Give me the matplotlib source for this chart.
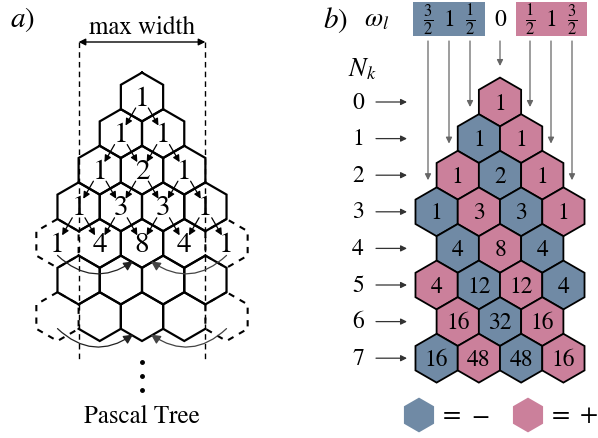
import numpy as np
import matplotlib.pyplot as plt
from matplotlib.patches import Polygon, FancyArrowPatch, Rectangle

plt.rcParams['font.family'] = 'STIXGeneral'
plt.rcParams['mathtext.fontset'] = 'stix'

# panel a: Pascal tree, numbers per row (rows 5-6 are empty cells)
a_values = [[1], [1, 1], [1, 2, 1], [1, 3, 3, 1], [1, 4, 8, 4, 1]]
a_row_sizes = [1, 2, 3, 4, 5, 4, 5]
a_dashed_rows = [4, 6]          # outer cells fall outside "max width"

# panel b: counts and signs per N_k row
b_values = [[1], [1, 1], [1, 2, 1], [1, 3, 3, 1], [4, 8, 4],
            [4, 12, 12, 4], [16, 32, 16], [16, 48, 48, 16]]
b_signs = [["+"], ["-", "+"], ["+", "-", "+"], ["-", "+", "-", "+"],
           ["-", "+", "-"], ["+", "-", "+", "-"], ["+", "-", "+"],
           ["-", "+", "-", "+"]]
row_labels = ["0", "1", "2", "3", "4", "5", "6", "7"]
omega_labels = [r"$\frac{3}{2}$", "1", r"$\frac{1}{2}$", "0",
                r"$\frac{1}{2}$", "1", r"$\frac{3}{2}$"]
omega_target_row = [2, 1, 0, None, 0, 1, 2]

BLUE = "#708aa5"
PINK = "#cb809b"
COLORS = {"-": BLUE, "+": PINK}

R = 24.4
DX = np.sqrt(3) * R / 2
DY = 1.5 * R


def hex_pts(cx, cy, r=R):
    ang = np.radians([90, 150, 210, 270, 330, 30])
    return np.column_stack([cx + r * np.cos(ang), cy - r * np.sin(ang)])


fig = plt.figure(figsize=(5.98, 4.39), dpi=100)
ax = fig.add_axes([0, 0, 1, 1])
ax.set_xlim(0, 598)
ax.set_ylim(439, 0)
ax.axis("off")

# ---------------- panel a ----------------
ax0, ay0 = 142, 98
ax.text(22, 20, "$a)$", fontsize=21, ha="center", va="center")
ax.text(ax0, 28, "max width", fontsize=18, ha="center", va="center")
left_w, right_w = ax0 - 3 * DX, ax0 + 3 * DX
ax.annotate("", xy=(left_w, 43), xytext=(right_w, 43),
            arrowprops=dict(arrowstyle="<|-|>", color="black", lw=1.0,
                            mutation_scale=10, shrinkA=0, shrinkB=0))
for xw in (left_w, right_w):
    ax.plot([xw, xw], [43, 363], color="black", lw=1.0, ls=(0, (4, 3)))

for k, n in enumerate(a_row_sizes):
    y = ay0 + k * DY
    cols = np.arange(-(n - 1), n, 2)
    for c in cols:
        x = ax0 + c * DX
        pts = hex_pts(x, y)
        outer = k in a_dashed_rows and abs(c) == n - 1
        if outer:
            closed = np.vstack([pts, pts[:1]])
            ax.plot(closed[:, 0], closed[:, 1], color="black", lw=1.5,
                    ls=(0, (3, 3)), zorder=2)
for k, n in enumerate(a_row_sizes):
    y = ay0 + k * DY
    cols = np.arange(-(n - 1), n, 2)
    for c in cols:
        x = ax0 + c * DX
        pts = hex_pts(x, y)
        if k in a_dashed_rows and abs(c) == n - 1:
            continue
        if k in a_dashed_rows and c == -(n - 3):
            order = [2, 3, 4, 5, 0, 1]          # skip left vertical edge
        elif k in a_dashed_rows and c == n - 3:
            order = [5, 0, 1, 2, 3, 4]          # skip right vertical edge
        else:
            order = [0, 1, 2, 3, 4, 5, 0]
        p = pts[order]
        ax.plot(p[:, 0], p[:, 1], color="black", lw=1.6, zorder=3,
                solid_joinstyle="miter")

for k, row in enumerate(a_values):
    y = ay0 + k * DY
    n = len(row)
    cols = np.arange(-(n - 1), n, 2)
    for c, v in zip(cols, row):
        x = ax0 + c * DX
        ax.text(x, y + 1, str(v), fontsize=21, ha="center", va="center",
                zorder=5)
        if k < 4:
            for s in (-1, 1):
                chx, chy = x + s * DX, y + DY
                start = (x + 0.3 * (chx - x), y + 0.3 * (chy - y))
                end = (x + 0.78 * (chx - x), y + 0.78 * (chy - y))
                ax.add_patch(FancyArrowPatch(start, end, arrowstyle="-|>",
                                             mutation_scale=10, lw=0.9,
                                             color="black", zorder=4,
                                             shrinkA=0, shrinkB=0))

# curved arrows wrapping the outer cells back to the centre
for k in a_dashed_rows:
    y = ay0 + k * DY
    ax.add_patch(FancyArrowPatch((ax0 - 4 * DX, y + 12), (ax0 - 9, y + 18),
                                 connectionstyle="arc3,rad=0.4",
                                 arrowstyle="-|>", mutation_scale=14, lw=0.9,
                                 color="#222222", zorder=4,
                                 shrinkA=0, shrinkB=0))
    ax.add_patch(FancyArrowPatch((ax0 + 4 * DX, y + 12), (ax0 + 9, y + 18),
                                 connectionstyle="arc3,rad=-0.4",
                                 arrowstyle="-|>", mutation_scale=14, lw=0.9,
                                 color="#444444", zorder=4,
                                 shrinkA=0, shrinkB=0))

for yd in (363, 377, 391):
    ax.plot(ax0, yd, "o", color="black", ms=2.5)
ax.text(ax0, 417, "Pascal Tree", fontsize=18, ha="center", va="center")

# ---------------- panel b ----------------
bx0, by0 = 500, 103
ax.text(335, 20, "$b)$", fontsize=21, ha="center", va="center")
ax.text(377, 20, r"$\omega_l$", fontsize=19, ha="center", va="center")
ax.text(362, 70, r"$N_k$", fontsize=19, ha="center", va="center")

ax.add_patch(Rectangle((413, 3), 72, 34, color=BLUE, lw=0))
ax.add_patch(Rectangle((516, 3), 71, 34, color=PINK, lw=0))
omega_dx = [-72, -51, -30, 0, 30, 51, 72]
for lab, ddx, tr in zip(omega_labels, omega_dx, omega_target_row):
    x = bx0 + ddx
    ax.text(x, 20, lab, fontsize=17 if "frac" in lab else 17,
            ha="center", va="center")
    y_end = 67 if tr is None else by0 + tr * DY + 5
    ax.annotate("", xy=(x, y_end), xytext=(x, 42),
                arrowprops=dict(arrowstyle="-|>", color="#666666", lw=0.9,
                                mutation_scale=9, shrinkA=0, shrinkB=0))

for k, (vals, sg) in enumerate(zip(b_values, b_signs)):
    y = by0 + k * DY
    n = len(vals)
    cols = np.arange(-(n - 1), n, 2)
    for c, v, s in zip(cols, vals, sg):
        x = bx0 + c * DX
        ax.add_patch(Polygon(hex_pts(x, y), closed=True, facecolor=COLORS[s],
                             edgecolor="black", lw=1.3, joinstyle="miter",
                             zorder=3))
        ax.text(x, y + 1, str(v), fontsize=17, ha="center", va="center",
                zorder=5)
    ax.text(358, y, row_labels[k], fontsize=17, ha="center", va="center")
    ax.annotate("", xy=(407, y), xytext=(376, y),
                arrowprops=dict(arrowstyle="-|>", color="#333333", lw=0.9,
                                mutation_scale=9, shrinkA=0, shrinkB=0))

# legend
ax.add_patch(Polygon(hex_pts(419, 416, 17.4), closed=True, facecolor=BLUE,
                     edgecolor="none"))
ax.add_patch(Polygon(hex_pts(528, 416, 17.4), closed=True, facecolor=PINK,
                     edgecolor="none"))
ax.text(452, 416, "=", fontsize=19, ha="center", va="center")
ax.text(480, 416, r"$-$", fontsize=19, ha="center", va="center")
ax.text(561, 416, "=", fontsize=19, ha="center", va="center")
ax.text(588, 416, r"$+$", fontsize=19, ha="center", va="center")

fig.savefig("out.png", dpi=100)
